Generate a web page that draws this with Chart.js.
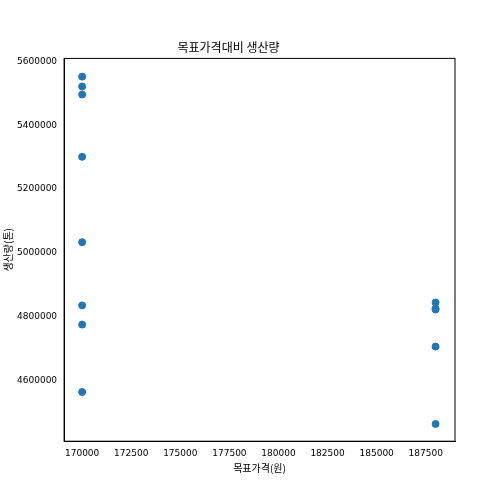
<!DOCTYPE html>
<html>
<head>
<meta charset="utf-8">
<script src="https://cdn.jsdelivr.net/npm/chart.js@4/dist/chart.umd.min.js"></script>
<style>
  body { margin: 0; background: #fff; }
  #wrap { width: 504px; height: 504px; }
</style>
</head>
<body>
<div id="wrap"><canvas id="c"></canvas></div>
<script>
var xPrices = [170000, 170000, 170000, 170000, 170000, 170000, 170000, 170000,
               188000, 188000, 188000, 188000, 188000];
var yOutput = [5552000, 5521000, 5496000, 5301000, 5034000, 4836000, 4776000, 4565000,
               4845000, 4826000, 4823000, 4707000, 4465000];
var xTicks = [170000, 172500, 175000, 177500, 180000, 182500, 185000, 187500];
var yTicks = [4600000, 4800000, 5000000, 5200000, 5400000, 5600000];

var points = xPrices.map(function (x, i) { return { x: x, y: yOutput[i] }; });
var font = { family: "DejaVu Sans", size: 9 };
var krFont = { family: "Noto Sans CJK KR", size: 10 };
var plain = function (v) { return String(v); };

new Chart(document.getElementById("c"), {
    type: "scatter",
    data: {
        datasets: [{
            data: points,
            backgroundColor: "#1f77b4",
            borderColor: "#1f77b4",
            pointRadius: 3.5,
            pointHoverRadius: 3.5
        }]
    },
    options: {
        responsive: true,
        maintainAspectRatio: false,
        animation: false,
        layout: { padding: { top: 4, right: 49, bottom: 30, left: 2 } },
        plugins: {
            legend: { display: false },
            tooltip: { enabled: false },
            title: {
                display: true,
                text: "목표가격대비 생산량",
                color: "#000",
                font: { family: "Noto Sans CJK KR", size: 12, weight: "normal" },
                padding: { top: 36, bottom: 4 }
            }
        },
        scales: {
            x: {
                type: "linear",
                min: 169080,
                max: 188990,
                afterBuildTicks: function (s) { s.ticks = xTicks.map(function (v) { return { value: v }; }); },
                grid: { display: false, drawTicks: true, tickLength: 4, tickColor: "#000" },
                border: { color: "#000" },
                ticks: { color: "#000", font: font, maxRotation: 0, autoSkip: false, callback: plain },
                title: { display: true, text: "목표가격(원)", color: "#000", font: krFont, padding: 0 }
            },
            y: {
                min: 4411000,
                max: 5609000,
                afterBuildTicks: function (s) { s.ticks = yTicks.map(function (v) { return { value: v }; }); },
                grid: { display: false, drawTicks: true, tickLength: 4, tickColor: "#000" },
                border: { color: "#000" },
                ticks: { color: "#000", font: font, autoSkip: false, callback: plain },
                title: { display: true, text: "생산량(톤)", color: "#000", font: krFont, padding: 0 }
            }
        }
    },
    plugins: [{
        id: "frame",
        afterDraw: function (chart) {
            var a = chart.chartArea, ctx = chart.ctx;
            ctx.save();
            ctx.strokeStyle = "#000";
            ctx.lineWidth = 1;
            ctx.strokeRect(a.left, a.top, a.right - a.left, a.bottom - a.top);
            ctx.restore();
        }
    }]
});
</script>
</body>
</html>
